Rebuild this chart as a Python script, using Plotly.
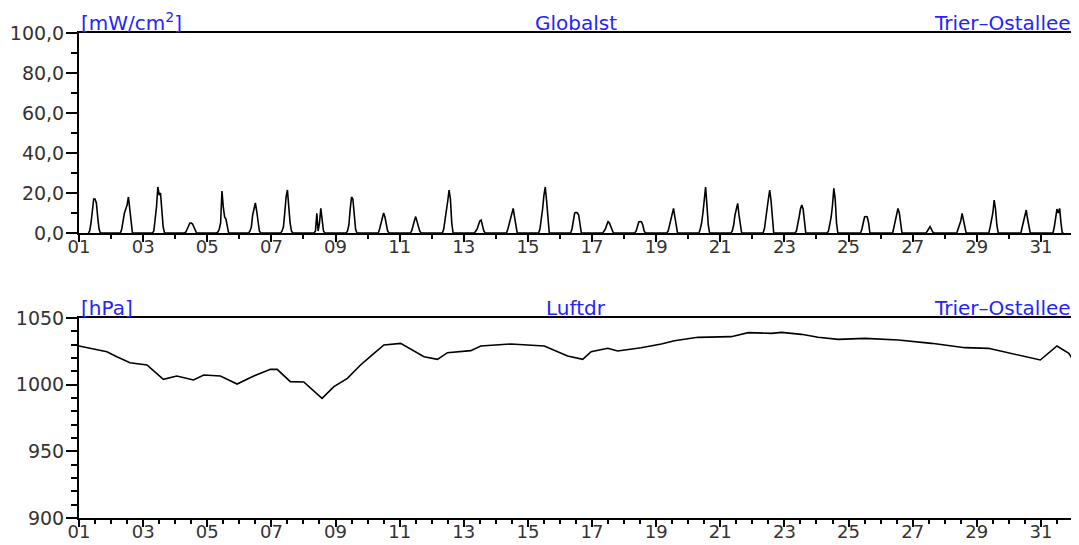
import plotly.graph_objects as go

# ---------------- data ----------------
DAYS = list(range(1, 32))
HOURS = [7, 8, 9, 10, 11, 12, 13, 14, 15, 16, 17]

# Global radiation [mW/cm2] per day, values at HOURS
GLOBAL_RAD = [
    [0, 1, 5, 12, 17, 17, 15, 8, 2, 0, 0],          # 01
    [0, 2, 7, 10, 12, 14, 18, 12, 3, 0, 0],          # 02
    [0, 1, 6, 13, 23, 19, 20, 12, 3, 0, 0],          # 03
    [0, 0.5, 2, 4, 5, 5, 4.5, 3, 1, 0, 0],           # 04
    [0, 0.5, 2, 5, 21, 13, 8, 7, 3, 0, 0],           # 05
    [0, 1, 3, 9, 13, 15, 11, 5, 1, 0, 0],            # 06
    [0, 1, 3, 10, 18, 21.5, 12, 5, 1, 0, 0],         # 07
    [0, 0, 1, 9.8, 1, 5, 12.3, 7, 1, 0, 0],          # 08
    [0, 0, 1, 4, 12, 18, 17, 10, 2, 0, 0],           # 09
    [0, 0, 2, 5, 8, 10, 8, 4, 1, 0, 0],              # 10
    [0, 0, 1, 3, 6, 8.2, 6, 3, 1, 0, 0],             # 11
    [0, 0, 2, 6, 12, 16, 21.5, 17, 5, 0, 0],         # 12
    [0, 0, 1, 2, 4, 6, 6.5, 4, 1, 0, 0],             # 13
    [0, 0, 2, 5, 8, 10, 12.3, 8, 3, 0, 0],           # 14
    [0, 0, 2, 6, 12, 19, 23, 16, 5, 0, 0],           # 15
    [0, 0, 2, 7, 10, 10.3, 10, 9, 4, 0, 0],          # 16
    [0, 0, 1, 2, 4, 5.7, 5, 3, 1, 0, 0],             # 17
    [0, 0, 1, 4, 5.5, 5.7, 5.5, 4, 1, 0, 0],         # 18
    [0, 0, 1, 4, 8, 11, 12.3, 8, 3, 0, 0],           # 19
    [0, 0, 2, 5, 10, 17, 23, 14, 4, 0, 0],           # 20
    [0, 0, 1, 4, 9, 13, 14.8, 9, 3, 0, 0],           # 21
    [0, 0, 2, 6, 12, 17, 21.5, 16, 5, 0, 0],         # 22
    [0, 0, 1, 4, 8, 12, 14, 12, 4, 0, 0],            # 23
    [0, 0, 1, 4, 8, 14, 22.3, 17, 5, 0, 0],          # 24
    [0, 0, 0, 2, 5, 8, 8.2, 8, 5, 0, 0],             # 25
    [0, 0, 0, 3, 6, 9, 12.3, 10, 4, 0, 0],           # 26
    [0, 0, 0, 0, 1, 2, 3.2, 2, 0.5, 0, 0],           # 27
    [0, 0, 0, 2, 4, 6, 9.8, 6, 2, 0, 0],             # 28
    [0, 0, 0, 3, 6, 10, 16.5, 12, 4, 0, 0],          # 29
    [0, 0, 0, 3, 6, 9, 11.5, 7, 3, 0, 0],            # 30
    [0, 0, 0, 3, 7, 12, 10, 12.3, 5, 0, 0],          # 31
]

# Air pressure [hPa]
PRESSURE_DAY = [1.0, 1.45, 1.87, 2.18, 2.59, 3.12, 3.63, 4.05, 4.57, 4.89, 5.41,
                5.93, 6.45, 6.97, 7.18, 7.59, 8.01, 8.58, 8.95, 9.37, 9.78, 10.2,
                10.51, 11.03, 11.34, 11.76, 12.18, 12.49, 13.22, 13.53, 14.47,
                15.51, 16.24, 16.71, 16.97, 17.49, 17.8, 18.53, 19.16, 19.57,
                20.3, 21.03, 21.34, 21.87, 22.59, 22.91, 23.53, 24.05, 24.68,
                25.51, 26.55, 27.59, 28.63, 29.36, 30.3, 30.98, 31.5, 31.87, 32.0]
PRESSURE_HPA = [1029, 1026.5, 1024.7, 1021, 1016.5, 1014.75, 1004, 1006.5, 1003.5,
                1007.25, 1006.5, 1000.5, 1006.5, 1011.5, 1011.5, 1002.25, 1002,
                989.75, 998.5, 1004.75, 1014.75, 1023.5, 1029.75, 1031, 1026.5,
                1021, 1019, 1024, 1025.5, 1029, 1030.5, 1029, 1021.5, 1019,
                1024.75, 1027.25, 1025.25, 1027.75, 1030.5, 1033, 1035.5, 1036,
                1036, 1039, 1038.5, 1039.25, 1037.75, 1035.5, 1034, 1034.75,
                1033.5, 1031, 1027.75, 1027.25, 1022.25, 1018.5, 1029, 1023.5,
                1018.5]

TICK_DAYS = list(range(1, 32, 2))
TICK_LABELS = ["%02d" % d for d in TICK_DAYS]

# ---------------- build series ----------------
rad_x, rad_y = [], []
for d, prof in zip(DAYS, GLOBAL_RAD):
    for h, v in zip(HOURS, prof):
        rad_x.append(d + h / 24.0)
        rad_y.append(v)

BLUE = "#2424ff"
TXT = "#333333"
FONT = "DejaVu Sans"

fig = go.Figure()
fig.add_trace(go.Scatter(x=rad_x, y=rad_y, mode="lines",
                         line=dict(color="black", width=1.6),
                         xaxis="x", yaxis="y", hoverinfo="skip"))
fig.add_trace(go.Scatter(x=PRESSURE_DAY, y=PRESSURE_HPA, mode="lines",
                         line=dict(color="black", width=1.6),
                         xaxis="x2", yaxis="y2", hoverinfo="skip"))

W, H = 1079, 545
OFF = 8  # page body margin offset
xl, xr = (79 - OFF) / W, (1073 - OFF) / W
top_dom = [(H - (233 - OFF)) / H, (H - (33 - OFF)) / H]
bot_dom = [(H - (518 - OFF)) / H, (H - (318 - OFF)) / H]

def xaxis(anchor, minor_dtick):
    return dict(domain=[xl, xr], range=[1, 32], anchor=anchor, automargin=False,
                tickmode="array", tickvals=TICK_DAYS, ticktext=TICK_LABELS,
                ticks="outside", ticklen=7, tickwidth=1.5, tickcolor="black",
                ticklabelstandoff=-11,
                minor=dict(tickmode="linear", tick0=1, dtick=minor_dtick,
                           ticks="outside", ticklen=4, tickwidth=1.5,
                           tickcolor="black"),
                showline=True, linecolor="black", linewidth=2, mirror=True,
                showgrid=False, zeroline=False,
                tickfont=dict(family=FONT, size=18, color=TXT), fixedrange=True)

def yaxis(anchor, dom, rng, dtick, minor_dtick, fmt):
    return dict(domain=dom, range=rng, anchor=anchor, automargin=False,
                tickmode="linear", tick0=rng[0], dtick=dtick, tickformat=fmt,
                ticks="outside", ticklen=11, tickwidth=1.5, tickcolor="black",
                ticklabelstandoff=-2,
                minor=dict(tickmode="linear", tick0=rng[0], dtick=minor_dtick,
                           ticks="outside", ticklen=6, tickwidth=1.5,
                           tickcolor="black"),
                showline=True, linecolor="black", linewidth=2, mirror=True,
                showgrid=False, zeroline=False,
                tickfont=dict(family=FONT, size=19, color=TXT), fixedrange=True)

fig.update_layout(
    width=W, height=H, margin=dict(l=0, r=0, t=0, b=0),
    paper_bgcolor="white", plot_bgcolor="white", showlegend=False,
    separators=",.",
    xaxis=xaxis("y", 1),
    yaxis=yaxis("x", top_dom, [0, 100], 20, 10, ".1f"),
    xaxis2=xaxis("y2", 0.5),
    yaxis2=yaxis("x2", bot_dom, [900, 1050], 50, 10, "d"),
)

def label(text, x, xanchor, ytop):
    fig.add_annotation(text=text, x=x, y=ytop, xref="paper", yref="paper",
                       xanchor=xanchor, yanchor="bottom", showarrow=False,
                       yshift=-4, xshift=0,
                       font=dict(family=FONT, size=20, color=BLUE))

for dom, unit, name in [(top_dom, "[mW/cm<sup>2</sup>]", "Globalst"),
                        (bot_dom, "[hPa]", "Luftdr")]:
    label(unit, xl, "left", dom[1])
    label(name, (xl + xr) / 2, "center", dom[1])
    label("Trier–Ostallee", xr, "right", dom[1])

fig.write_html("out.html")
